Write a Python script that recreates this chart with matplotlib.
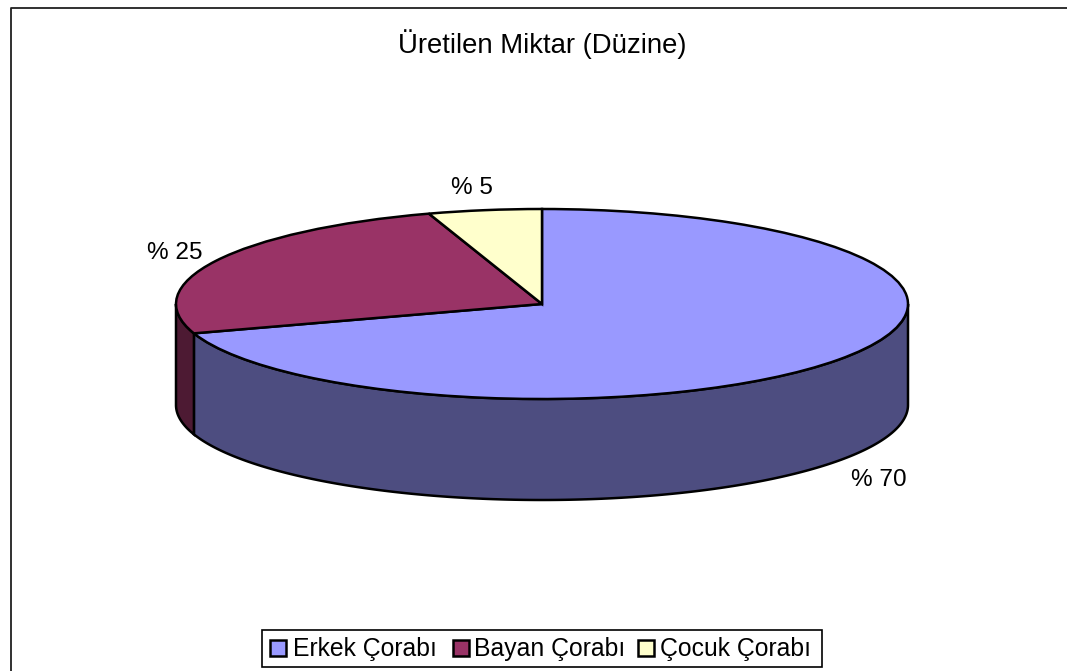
import numpy as np
import matplotlib
matplotlib.use("Agg")
import matplotlib.pyplot as plt
from matplotlib.patches import Rectangle

plt.rcParams['font.family'] = ['Liberation Sans', 'DejaVu Sans']

categories = ['Erkek Çorabı', 'Bayan Çorabı', 'Çocuk Çorabı']
values = [70, 25, 5]
pct_labels = ['% 70', '% 25', '% 5']
top_colors = ['#9999FF', '#993366', '#FFFFCC']
side_colors = ['#4D4D80', '#4D1A33', '#808066']

W, H = 1067, 671
cx, cy = 542, 304     # pie centre, px
rx, ry = 366, 95      # ellipse radii, px
depth = 101 / ry      # thickness in pie units

fig = plt.figure(figsize=(W / 100, H / 100), dpi=100)
ax = fig.add_axes([0, 0, 1, 1])

# outer frame of the chart area
fig.add_artist(plt.Line2D([10.5 / W, 10.5 / W, 1], [0, 1 - 7.5 / H, 1 - 7.5 / H], color='#202020', lw=1.3))

wedges, _ = ax.pie(values, colors=top_colors, startangle=90, counterclock=False,
                   radius=1, center=(0, 0), wedgeprops=dict(edgecolor='black', linewidth=1.8, zorder=3))
ax.set_aspect('auto')
ax.set_xlim(-cx / rx, (W - cx) / rx)
ax.set_ylim((cy - H) / ry, cy / ry)
ax.axis('off')

# side wall, only the front half of the rim is visible
fr = np.cumsum([0] + values) / sum(values)
for i in range(len(values)):
    a0 = max(fr[i] * 360, 90)
    a1 = min(fr[i + 1] * 360, 270)
    if a1 <= a0:
        continue
    t = np.radians(np.linspace(a0, a1, 200))
    x = np.sin(t)
    y = np.cos(t)
    ax.fill(np.r_[x, x[::-1]], np.r_[y, y[::-1] - depth], facecolor=side_colors[i],
            edgecolor='black', linewidth=1.8, zorder=2)

fig.text(542 / W, 1 - 44 / H, 'Üretilen Miktar (Düzine)', fontsize=19.8, ha='center', va='center')

label_pos = [(879, 480), (175, 252.5), (472, 188.5)]
for txt, (px, py) in zip(pct_labels, label_pos):
    fig.text(px / W, 1 - py / H, txt, fontsize=17.6, ha='center', va='center')

# legend drawn by hand so the swatches sit like the original
fig.add_artist(Rectangle((262 / W, 1 - 667 / H), 560 / W, 37 / H, transform=fig.transFigure,
                         facecolor='white', edgecolor='black', lw=1.2))
swatch_x = [270, 453, 638]
text_x = [293, 474, 660]
for name, col, sx, tx in zip(categories, top_colors, swatch_x, text_x):
    fig.add_artist(Rectangle((sx / W, 1 - 656 / H), 16 / W, 16 / H, transform=fig.transFigure,
                             facecolor=col, edgecolor='black', lw=1.8))
    fig.text(tx / W, 1 - 649 / H, name, fontsize=17.8, ha='left', va='center')

fig.savefig('out.png', dpi=100)
